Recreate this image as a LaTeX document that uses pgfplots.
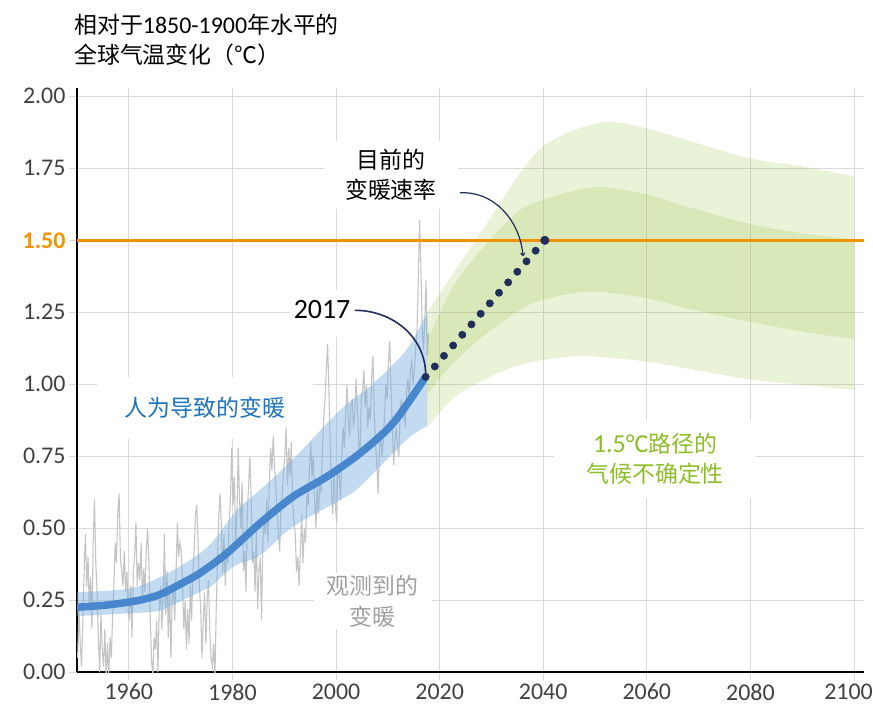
\documentclass[border=0pt]{standalone}
\usepackage{fontspec}
\setmainfont{Carlito}
\newfontfamily\cjk{Noto Sans CJK SC}
\newfontfamily\lat{Carlito}
\usepackage{pgfplots}
\pgfplotsset{compat=1.18}
\usepgfplotslibrary{fillbetween}
\usetikzlibrary{arrows.meta}
\pgfplotsset{/tikz/fill between/on layer=main}
\definecolor{gridgray}{RGB}{217,217,217}
\definecolor{obsgray}{RGB}{196,196,196}
\definecolor{bandblue}{RGB}{120,175,225}
\definecolor{lineblue}{RGB}{72,135,205}
\definecolor{plumegreen}{RGB}{150,190,60}
\definecolor{orangeF}{RGB}{243,146,0}
\definecolor{navy}{RGB}{31,45,90}
\definecolor{txtblue}{RGB}{30,115,190}
\definecolor{txtgreen}{RGB}{140,190,40}
\definecolor{txtgray}{RGB}{160,160,160}
\definecolor{ticktext}{RGB}{64,64,64}
\begin{document}
\begin{tikzpicture}
\begin{axis}[
  set layers,
  at={(0,0)}, anchor=south west,
  scale only axis, width=787.4bp, height=584.6bp,
  xmin=1950, xmax=2102, ymin=0, ymax=2.03,
  axis x line*=bottom, axis y line*=left,
  axis line style={black, line width=1.8bp, -},
  xtick={1960,1980,2000,2020,2040,2060,2080,2100},
  xticklabels={1960,1980,2000,2020,2040,2060,2080,{\hspace*{-11bp}2100}},
  ytick={0,0.25,0.5,0.75,1,1.25,1.5,1.75,2},
  yticklabels={0.00,0.25,0.50,0.75,1.00,1.25,{\textcolor{orangeF}{\bfseries 1.50}},1.75,2.00},
  grid=major, major grid style={gridgray, line width=1bp},
  tick align=outside, major tick length=8bp,
  tick style={gridgray, line width=1bp},
  tick label style={font=\fontsize{24}{24}\selectfont, text=ticktext},
  clip=true,
]
\begin{pgfonlayer}{pre main}
\node[fill=white, inner xsep=21bp, inner ysep=8bp, align=center, font=\cjk\fontsize{23}{30}\selectfont, text=black] at (axis cs:2010.6,1.727) {目前的\\变暖速率};
\node[fill=white, inner xsep=28bp, inner ysep=20bp, font=\cjk\fontsize{23}{30}\selectfont, text=txtblue] at (axis cs:1974.7,0.918) {人为导致的变暖};
\fill[white] (axis cs:1991.1,1.164) rectangle (axis cs:2017.6,1.328);
\node[fill=white, inner xsep=13bp, inner ysep=2bp, align=center, font=\cjk\fontsize{23}{31}\selectfont, text=txtgray] at (axis cs:2007.1,0.2476) {观测到的\\变暖};
\node[fill=white, inner xsep=32bp, inner ysep=13bp, align=center, font=\cjk\fontsize{23}{30}\selectfont, text=txtgreen] at (axis cs:2061.6,0.7406) {{\lat\fontsize{26}{30}\selectfont 1.5°C}路径的\\气候不确定性};
\end{pgfonlayer}

% observed warming
\addplot[obsgray, line width=1.1bp] table[x expr={1950.125+0.25*\coordindex}, y index=0, header=false, row sep=\\] {
0.05\\0.22\\0.10\\0.02\\0.18\\0.35\\0.48\\0.30\\0.40\\0.22\\0.33\\0.15\\0.45\\0.60\\0.38\\0.28\\
0.12\\0.00\\0.20\\0.08\\0.02\\0.15\\-0.02\\0.10\\-0.02\\0.12\\0.05\\0.20\\0.30\\0.45\\0.38\\0.55\\
0.62\\0.40\\0.35\\0.30\\0.42\\0.28\\0.35\\0.22\\0.18\\0.30\\0.12\\0.35\\0.40\\0.52\\0.30\\0.38\\
0.32\\0.45\\0.25\\0.36\\0.28\\0.42\\0.50\\0.38\\0.20\\0.05\\-0.02\\0.12\\0.08\\0.18\\0.00\\0.22\\
0.30\\0.15\\0.25\\0.48\\0.20\\0.35\\0.12\\0.30\\0.05\\0.25\\0.30\\0.18\\0.35\\0.52\\0.40\\0.45\\
0.42\\0.30\\0.15\\0.25\\0.08\\0.22\\0.10\\0.30\\0.18\\0.35\\0.42\\0.55\\0.58\\0.45\\0.30\\0.22\\
0.05\\0.18\\0.28\\0.10\\0.25\\0.32\\0.15\\0.05\\0.02\\0.10\\-0.02\\0.22\\0.40\\0.55\\0.62\\0.50\\
0.35\\0.48\\0.30\\0.42\\0.38\\0.52\\0.60\\0.78\\0.58\\0.68\\0.45\\0.55\\0.78\\0.60\\0.50\\0.66\\
0.35\\0.42\\0.28\\0.55\\0.65\\0.75\\0.60\\0.38\\0.42\\0.28\\0.50\\0.22\\0.35\\0.40\\0.18\\0.45\\
0.52\\0.48\\0.60\\0.45\\0.66\\0.78\\0.70\\0.82\\0.72\\0.65\\0.55\\0.48\\0.42\\0.58\\0.62\\0.70\\
0.75\\0.85\\0.65\\0.78\\0.68\\0.80\\0.60\\0.52\\0.48\\0.35\\0.40\\0.30\\0.42\\0.55\\0.38\\0.50\\
0.45\\0.62\\0.58\\0.70\\0.80\\0.68\\0.75\\0.60\\0.50\\0.65\\0.55\\0.68\\0.62\\0.78\\0.88\\0.95\\
1.05\\1.14\\0.98\\0.80\\0.62\\0.55\\0.70\\0.58\\0.52\\0.72\\0.68\\0.60\\0.75\\0.85\\0.78\\0.90\\
1.00\\0.88\\0.82\\0.92\\0.95\\0.85\\0.90\\1.02\\0.92\\0.80\\0.75\\0.95\\0.98\\1.05\\0.92\\1.00\\
0.85\\0.92\\0.88\\1.02\\1.10\\0.90\\0.80\\0.72\\0.62\\0.78\\0.82\\0.75\\0.80\\0.90\\1.00\\0.95\\
1.08\\1.15\\0.98\\0.85\\0.72\\0.80\\0.85\\0.78\\0.75\\0.90\\0.95\\0.88\\0.92\\0.85\\0.98\\1.02\\
0.95\\1.05\\1.08\\1.00\\1.05\\1.12\\1.18\\1.35\\1.57\\1.42\\1.20\\1.12\\1.22\\1.36\\1.10\\1.18\\
};

% human-induced warming band
\addplot[name path=bt, draw=none, smooth] coordinates {
(1950,0.278)(1960,0.29)(1966,0.33)(1972.4,0.396)(1976,0.45)(1979,0.52)(1981.5,0.575)(1985.3,0.633)(1991.7,0.74)(2000.8,0.911)(2007,1.0)(2013.6,1.12)(2017.6,1.25)};
\addplot[name path=bb, draw=none, smooth] coordinates {
(1950,0.195)(1960,0.205)(1966,0.215)(1972.4,0.268)(1976,0.30)(1979,0.35)(1981.5,0.379)(1985.3,0.405)(1991.7,0.506)(2000.8,0.598)(2004.6,0.644)(2013.6,0.807)(2017.6,0.855)};
\addplot[bandblue, fill opacity=0.45, draw=none] fill between[of=bt and bb];
\addplot[lineblue, line width=7.5bp, smooth] coordinates {
(1950,0.226)(1956,0.234)(1962,0.250)(1966,0.270)(1969.3,0.300)(1973.7,0.344)(1978.9,0.413)(1985.3,0.517)(1991.7,0.610)(1998.2,0.679)(2004.6,0.760)(2011,0.865)(2017.3,1.026)};

% 1.5C pathway plume
\addplot[name path=ou, draw=none, smooth] coordinates {
(2017.6,1.25)(2022.6,1.385)(2029.1,1.559)(2035.5,1.733)(2039.9,1.825)(2045.2,1.877)(2052.3,1.912)(2060,1.889)(2067.7,1.848)(2079.9,1.785)(2090.2,1.756)(2100,1.723)};
\addplot[name path=ol, draw=none, smooth] coordinates {
(2017.6,0.85)(2022.6,0.951)(2029.1,1.021)(2035.5,1.067)(2039.9,1.084)(2047.7,1.098)(2060,1.079)(2067.7,1.055)(2079.9,1.017)(2090.2,0.998)(2100,0.980)};
\addplot[name path=iu, draw=none, smooth] coordinates {
(2017.6,1.15)(2022.6,1.339)(2029.1,1.490)(2035.5,1.605)(2039.9,1.640)(2045.2,1.669)(2051,1.686)(2060,1.660)(2067.7,1.617)(2079.9,1.557)(2090.2,1.524)(2100,1.503)};
\addplot[name path=il, draw=none, smooth] coordinates {
(2017.6,0.965)(2022.6,1.073)(2029.1,1.177)(2035.5,1.258)(2039.9,1.293)(2049,1.322)(2060,1.299)(2067.7,1.264)(2079.9,1.217)(2090.2,1.183)(2100,1.156)};
\addplot[plumegreen, fill opacity=0.2, draw=none] fill between[of=ou and ol];
\addplot[plumegreen, fill opacity=0.2, draw=none] fill between[of=iu and il];

% 1.5 line
\addplot[orangeF, line width=3bp] coordinates {(1950,1.5)(2102,1.5)};

% annotation curves
\draw[navy, line width=1.6bp] (axis cs:2003.6,1.257) to[out=0,in=92] (axis cs:2017.3,1.04);
\draw[navy, line width=1.2bp, -{To[length=3.5bp,width=5bp]}] (axis cs:2023.9,1.665) to[out=3,in=95] (axis cs:2036.1,1.445);

% current warming rate dots
\addplot[only marks, mark=*, mark size=3.7bp, navy] coordinates {
(2017.30,1.026)(2019.07,1.062)(2020.84,1.099)(2022.61,1.135)(2024.38,1.172)(2026.15,1.208)(2027.92,1.245)(2029.69,1.281)(2031.46,1.318)(2033.23,1.354)(2035.00,1.391)(2036.77,1.427)(2038.54,1.464)};
\addplot[only marks, mark=*, mark size=4.3bp, navy] coordinates {(2040.31,1.500)};

\node[font=\lat\fontsize{28}{30}\selectfont, text=black] at (axis cs:1997.3,1.261) {2017};
\end{axis}
\node[anchor=west, inner sep=0pt, font=\cjk\fontsize{23}{28}\selectfont] at (-3bp,647.3bp) {相对于{\lat\fontsize{24}{28}\selectfont 1850-1900}年水平的};
\node[anchor=west, inner sep=0pt, font=\cjk\fontsize{23}{28}\selectfont] at (-3bp,617.3bp) {全球气温变化（℃）};
\pgfresetboundingbox
\path[use as bounding box] (-77bp,-40.7bp) rectangle (796bp,672.3bp);
\end{tikzpicture}
\end{document}
